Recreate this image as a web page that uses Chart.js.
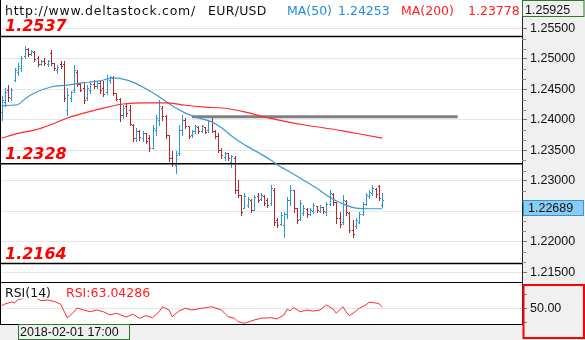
<!DOCTYPE html>
<html>
<head>
<meta charset="utf-8">
<script src="https://cdn.jsdelivr.net/npm/chart.js@4"></script>
<style>
html, body { margin: 0; padding: 0; background: #fff; }
#wrap { position: relative; width: 585px; height: 340px; overflow: hidden; }
#priceChart { position: absolute; left: 0; top: 0; }
#rsiChart { position: absolute; left: 0; top: 283px; }
</style>
</head>
<body>
<div id="wrap">
  <canvas id="priceChart" width="585" height="283"></canvas>
  <canvas id="rsiChart" width="585" height="57"></canvas>
</div>
<script>
// EUR/USD hourly bars
const opens  = [1.2413,1.2430,1.2449,1.2436,1.2466,1.2479,1.2485,1.2505,1.2517,1.2508,1.2512,1.2502,1.2492,1.2497,1.2492,1.2510,1.2494,1.2482,1.2492,1.2492,
                1.2416,1.2436,1.2449,1.2479,1.2459,1.2453,1.2436,1.2449,1.2459,1.2456,1.2461,1.2453,1.2446,1.2466,1.2469,1.2444,1.2434,1.2408,1.2423,1.2416,
                1.2392,1.2370,1.2382,1.2370,1.2379,1.2370,1.2354,1.2384,1.2400,1.2420,1.2407,1.2375,1.2338,1.2326,1.2346,1.2384,1.2400,1.2390,1.2375,1.2382,
                1.2389,1.2382,1.2389,1.2384,1.2398,1.2382,1.2374,1.2351,1.2339,1.2346,1.2331,1.2338,1.2285,1.2277,1.2256,1.2260,1.2269,1.2252,1.2275,1.2270,
                1.2275,1.2269,1.2264,1.2285,1.2236,1.2229,1.2228,1.2246,1.2269,1.2285,1.2256,1.2237,1.2247,1.2254,1.2246,1.2251,1.2259,1.2251,1.2257,1.2249,
                1.2262,1.2279,1.2265,1.2239,1.2233,1.2267,1.2247,1.2219,1.2226,1.2233,1.2246,1.2262,1.2275,1.2280,1.2287,1.2292,1.2260];
const highs  = [1.2439,1.2453,1.2457,1.2453,1.2485,1.2494,1.2505,1.2522,1.2518,1.2515,1.2513,1.2505,1.2499,1.2502,1.2499,1.2515,1.2494,1.2490,1.2497,1.2497,
                1.2453,1.2448,1.2490,1.2482,1.2461,1.2461,1.2457,1.2464,1.2466,1.2464,1.2464,1.2464,1.2474,1.2472,1.2472,1.2444,1.2436,1.2425,1.2428,1.2425,
                1.2393,1.2387,1.2384,1.2382,1.2379,1.2375,1.2392,1.2408,1.2433,1.2423,1.2408,1.2375,1.2349,1.2349,1.2392,1.2408,1.2403,1.2390,1.2384,1.2392,
                1.2390,1.2392,1.2389,1.2400,1.2405,1.2384,1.2379,1.2354,1.2347,1.2346,1.2343,1.2341,1.2301,1.2277,1.2280,1.2274,1.2270,1.2277,1.2280,1.2280,
                1.2277,1.2272,1.2293,1.2288,1.2239,1.2249,1.2249,1.2274,1.2293,1.2285,1.2256,1.2269,1.2260,1.2256,1.2256,1.2264,1.2259,1.2260,1.2257,1.2265,
                1.2285,1.2280,1.2265,1.2249,1.2277,1.2269,1.2249,1.2236,1.2239,1.2249,1.2265,1.2280,1.2285,1.2293,1.2288,1.2293,1.2280];
const lows   = [1.2400,1.2423,1.2431,1.2433,1.2464,1.2474,1.2480,1.2502,1.2505,1.2507,1.2497,1.2489,1.2490,1.2490,1.2489,1.2490,1.2482,1.2477,1.2485,1.2431,
                1.2408,1.2431,1.2446,1.2456,1.2448,1.2428,1.2433,1.2444,1.2453,1.2453,1.2444,1.2439,1.2443,1.2461,1.2441,1.2433,1.2398,1.2403,1.2407,1.2392,
                1.2366,1.2366,1.2367,1.2366,1.2362,1.2349,1.2354,1.2375,1.2392,1.2400,1.2370,1.2333,1.2324,1.2313,1.2343,1.2375,1.2387,1.2370,1.2372,1.2379,
                1.2379,1.2380,1.2379,1.2380,1.2380,1.2370,1.2347,1.2338,1.2334,1.2334,1.2323,1.2280,1.2274,1.2244,1.2256,1.2257,1.2249,1.2252,1.2265,1.2269,
                1.2260,1.2257,1.2260,1.2228,1.2224,1.2228,1.2208,1.2239,1.2260,1.2249,1.2231,1.2236,1.2244,1.2241,1.2244,1.2247,1.2249,1.2249,1.2247,1.2244,
                1.2260,1.2260,1.2231,1.2224,1.2229,1.2244,1.2216,1.2208,1.2223,1.2231,1.2244,1.2260,1.2272,1.2277,1.2274,1.2269,1.2257];
const closes = [1.2433,1.2446,1.2438,1.2449,1.2482,1.2489,1.2502,1.2517,1.2508,1.2513,1.2500,1.2492,1.2497,1.2494,1.2497,1.2494,1.2485,1.2487,1.2489,1.2436,
                1.2441,1.2446,1.2482,1.2459,1.2449,1.2433,1.2453,1.2459,1.2456,1.2461,1.2449,1.2443,1.2469,1.2471,1.2444,1.2434,1.2408,1.2420,1.2412,1.2393,
                1.2370,1.2382,1.2372,1.2379,1.2366,1.2354,1.2387,1.2403,1.2423,1.2407,1.2375,1.2338,1.2329,1.2343,1.2384,1.2400,1.2390,1.2374,1.2382,1.2390,
                1.2382,1.2390,1.2380,1.2398,1.2382,1.2374,1.2351,1.2343,1.2346,1.2338,1.2341,1.2285,1.2277,1.2249,1.2275,1.2270,1.2252,1.2274,1.2269,1.2277,
                1.2264,1.2260,1.2288,1.2233,1.2228,1.2244,1.2246,1.2269,1.2285,1.2256,1.2236,1.2264,1.2256,1.2246,1.2252,1.2260,1.2252,1.2257,1.2251,1.2262,
                1.2280,1.2265,1.2239,1.2229,1.2269,1.2249,1.2219,1.2213,1.2236,1.2246,1.2262,1.2277,1.2282,1.2288,1.2279,1.2272,1.22689];

// moving averages, sampled along the bars
const ma50Bars  = [0, 3, 5, 7, 10, 15, 20, 25, 30, 34, 37, 40, 44, 48, 52, 56, 60, 64, 67, 70, 74, 78, 82, 85, 88, 92, 96, 100, 104, 108, 112, 116];
const ma50Vals  = [1.2423,1.2424,1.24253,1.2434,1.2444,1.2454,1.2457,1.2461,1.2464,1.2469,1.2467,1.2462,1.2451,1.2438,1.2423,1.2411,
                   1.2403,1.2397,1.2387,1.2374,1.2359,1.2347,1.2334,1.2323,1.2314,1.2301,1.2288,1.2273,1.2262,1.2255,1.2254,1.2254];
const ma200Bars = [0, 5, 10, 15, 20, 25, 30, 37, 44, 50, 56, 62, 68, 74, 80, 86, 92, 98, 104, 110, 116];
const ma200Vals = [1.2370,1.23778,1.2383,1.2392,1.2403,1.2411,1.2418,1.2426,1.2428,1.2428,1.2424,1.2421,1.2419,1.2413,1.2405,1.2398,
                   1.2392,1.2387,1.2382,1.2376,1.2370];

// RSI(14)
const rsiBars = [0, 1, 3, 4, 5, 6, 7, 8, 9, 10, 11, 12, 14, 16, 18, 20, 22, 23, 25, 27, 29, 31, 33, 35, 38, 40, 42, 44, 46, 48, 49, 51, 52, 54, 56, 58,
                 61, 64, 67, 69, 71, 72, 74, 77, 79, 82, 84, 86, 87, 88, 89, 91, 93, 95, 97, 99, 101, 102, 104, 105, 106, 108, 109, 111, 112, 114, 115, 116];
const rsiVals = [53.8, 56.2, 59.1, 57.7, 63.04286, 63.5, 66, 70, 69, 67, 64, 61, 62, 60, 56, 36, 44.6, 50.4, 47.5, 45, 47.5, 45, 40.3, 42.8, 37.4, 41.3,
                 35.5, 39.3, 36.4, 45, 52.3, 47.5, 37.8, 46, 50, 47.5, 50, 52.3, 47.5, 37.8, 35.5, 30.6, 28.3, 33, 35.5, 36.4, 34.5, 40.3, 48.5, 46.5,
                 51, 45, 47.5, 46, 47.5, 54.8, 49, 42.8, 52.3, 45, 39.3, 46, 50, 54.8, 58.7, 57.7, 56.7, 52];

// levels and axis values
const levels = [1.2537, 1.2328, 1.2164];
const greyLevel = 1.2405, greyFrom = 58, greyTo = 139;
const priceTicks = [1.215, 1.22, 1.225, 1.23, 1.235, 1.24, 1.245, 1.25, 1.255];
const priceMin = 1.21321, priceMax = 1.25968;
const topPrice = 1.25925, lastPrice = 1.22689;
const rsiTicks = [30, 50, 70];
const rsiMin = 27.2, rsiMax = 86.7;

// values shown for the bar under the cursor
const cursorBar = 5;
const cursorTime = '2018-02-01 17:00';
const symbol = 'EUR/USD';
const siteUrl = 'http://www.deltastock.com/';
const ma50Now = '1.24253', ma200Now = '1.23778', rsiNow = '63.04286';

const xMin = -0.5, xMax = 158.6;
const upColor = '#2e95d4', downColor = '#b3282d';
const axisBg = '#f0f0f0';
const axisFont = { family: 'Liberation Sans', size: 12.5 };
const labelFont = '12.5px "DejaVu Sans"';

function pts(xs, ys) { return xs.map((x, i) => ({ x: x, y: ys[i] })); }

// keep the plot flush with the canvas edges
function fixAxis(s) {
  s.width = 63;
  s.paddingTop = 0;
  s.paddingBottom = 0;
}

const ohlcBars = {
  id: 'ohlcBars',
  beforeDatasetsDraw(chart) {
    const { ctx, scales: { x, y } } = chart;
    ctx.save();
    for (let i = 0; i < closes.length; i++) {
      const px = Math.round(x.getPixelForValue(i));
      const hi = Math.round(y.getPixelForValue(highs[i]));
      const lo = Math.round(y.getPixelForValue(lows[i]));
      ctx.fillStyle = closes[i] >= opens[i] ? upColor : downColor;
      ctx.fillRect(px, hi, 1, Math.max(1, lo - hi + 1));
      ctx.fillRect(px - 1, Math.round(y.getPixelForValue(opens[i])), 1, 1);
      ctx.fillRect(px + 1, Math.round(y.getPixelForValue(closes[i])), 1, 1);
    }
    ctx.restore();
  }
};

const priceDecor = {
  id: 'priceDecor',
  beforeDraw(chart) {
    const { ctx, chartArea: a, width, height } = chart;
    ctx.save();
    ctx.fillStyle = '#fff';
    ctx.fillRect(0, 0, width, height);
    ctx.fillStyle = axisBg;
    ctx.fillRect(a.right, 0, width - a.right, height);
    ctx.restore();
  },
  afterDraw(chart) {
    const { ctx, chartArea: a, scales: { y }, width } = chart;
    ctx.save();
    // minor ticks between the labelled ones
    ctx.strokeStyle = '#8a8a8a';
    ctx.lineWidth = 1;
    for (let k = 0; k < priceTicks.length - 1; k++) {
      for (let m = 1; m < 3; m++) {
        const v = priceTicks[k] + (priceTicks[k + 1] - priceTicks[k]) * m / 3;
        const py = Math.round(y.getPixelForValue(v)) + 0.5;
        ctx.beginPath(); ctx.moveTo(a.right, py); ctx.lineTo(a.right + 4, py); ctx.stroke();
      }
    }
    // level captions
    ctx.font = 'italic bold 16px "DejaVu Sans"';
    ctx.fillStyle = '#ff0000';
    ctx.textBaseline = 'alphabetic';
    levels.forEach(v => ctx.fillText(v.toFixed(4), 5, y.getPixelForValue(v) - 5));
    // header
    ctx.font = labelFont;
    ctx.fillStyle = '#111';
    ctx.letterSpacing = '0.75px';
    ctx.fillText(siteUrl, 5, 15);
    ctx.letterSpacing = '0.3px';
    ctx.fillText(symbol, 208, 15);
    ctx.letterSpacing = '0px';
    ctx.fillStyle = '#1f8dd6';
    ctx.fillText('MA(50)', 287, 15);
    ctx.fillText(ma50Now, 338, 15);
    ctx.fillStyle = '#ff2020';
    ctx.fillText('MA(200)', 401, 15);
    ctx.fillText(ma200Now, 468, 15);
    // price boxes on the axis
    ctx.font = axisFont.size + 'px "' + axisFont.family + '"';
    const topY = Math.round(y.getPixelForValue(topPrice));
    ctx.fillStyle = axisBg;
    ctx.fillRect(a.right + 1, 0, width - a.right - 1, 17);
    ctx.strokeStyle = '#2c7a2c';
    ctx.lineWidth = 1;
    ctx.strokeRect(a.right + 0.5, 0.5, width - a.right - 1.5, 16);
    ctx.fillStyle = '#111';
    ctx.fillText(topPrice.toFixed(5), a.right + 3, topY + 11);
    const lastY = Math.round(y.getPixelForValue(lastPrice));
    ctx.fillStyle = '#88cdf3';
    ctx.fillRect(a.right + 1, lastY, width - a.right - 2, 16);
    ctx.strokeStyle = '#3b93cf';
    ctx.strokeRect(a.right + 1.5, lastY + 0.5, width - a.right - 3, 15);
    ctx.fillStyle = '#111';
    ctx.fillText(lastPrice.toFixed(5), a.right + 6, lastY + 12);
    // frame
    ctx.fillStyle = '#000';
    ctx.fillRect(0, 0, 1, a.bottom);
    ctx.fillRect(0, a.bottom - 1, a.right, 1);
    ctx.restore();
  }
};

const levelSets = levels.map(v => ({
  data: [{ x: xMin, y: v }, { x: xMax, y: v }],
  borderColor: '#000', borderWidth: 1.5, pointRadius: 0
}));

new Chart('priceChart', {
  type: 'line',
  data: {
    datasets: [
      { data: pts(ma200Bars, ma200Vals), borderColor: '#ff2a2a', borderWidth: 1.2, pointRadius: 0, cubicInterpolationMode: 'monotone' },
      { data: pts(ma50Bars, ma50Vals), borderColor: '#3a9bd8', borderWidth: 1.2, pointRadius: 0, cubicInterpolationMode: 'monotone' },
      { data: [{ x: greyFrom, y: greyLevel }, { x: greyTo, y: greyLevel }], borderColor: '#808080', borderWidth: 3, pointRadius: 0 },
      ...levelSets
    ]
  },
  options: {
    responsive: false,
    animation: false,
    events: [],
    layout: { padding: 0 },
    plugins: { legend: { display: false }, tooltip: { enabled: false } },
    scales: {
      x: { type: 'linear', min: xMin, max: xMax, display: false },
      y: {
        position: 'right', min: priceMin, max: priceMax,
        afterBuildTicks: s => { s.ticks = priceTicks.map(v => ({ value: v })); },
        afterFit: fixAxis,
        grid: { color: '#e6e6e6', tickLength: 5, tickColor: '#7a7a7a' },
        border: { color: '#222' },
        ticks: { padding: 3, color: '#111', font: axisFont, callback: v => v.toFixed(5) }
      }
    }
  },
  plugins: [ohlcBars, priceDecor]
});

const rsiDecor = {
  id: 'rsiDecor',
  beforeDraw(chart) {
    const { ctx, chartArea: a, width, height } = chart;
    ctx.save();
    ctx.fillStyle = '#fff';
    ctx.fillRect(0, 0, width, height);
    ctx.fillStyle = axisBg;
    ctx.fillRect(a.right, 0, width - a.right, height);
    ctx.fillRect(0, a.bottom, a.right, height - a.bottom);
    ctx.restore();
  },
  afterDraw(chart) {
    const { ctx, chartArea: a, scales: { x }, width, height } = chart;
    ctx.save();
    // indicator caption sits on its own white strip
    ctx.fillStyle = '#fff';
    ctx.fillRect(2, 3, 56, 12.5);
    ctx.font = labelFont;
    ctx.fillStyle = '#111';
    ctx.fillText('RSI(14)', 5, 14);
    ctx.fillStyle = '#ff2020';
    ctx.fillText('RSI:' + rsiNow, 66, 14);
    // frame
    ctx.fillStyle = '#000';
    ctx.fillRect(0, 0, 1, a.bottom);
    ctx.fillRect(0, a.bottom, a.right, 1);
    // time of the cursor bar
    const bx = Math.round(x.getPixelForValue(cursorBar));
    ctx.strokeStyle = '#2c7a2c';
    ctx.lineWidth = 1;
    ctx.strokeRect(bx + 0.5, a.bottom + 0.5, 111, height - a.bottom - 1);
    ctx.font = axisFont.size + 'px "' + axisFont.family + '"';
    ctx.fillStyle = '#111';
    ctx.fillText(cursorTime, bx + 2, height - 4);
    // axis box
    ctx.strokeStyle = '#ff0000';
    ctx.lineWidth = 2;
    ctx.strokeRect(a.right + 1.5, 2, width - a.right - 2.5, height - 4);
    ctx.restore();
  }
};

new Chart('rsiChart', {
  type: 'line',
  data: {
    datasets: [
      { data: pts(rsiBars, rsiVals), borderColor: '#ff2a2a', borderWidth: 1, pointRadius: 0 }
    ]
  },
  options: {
    responsive: false,
    animation: false,
    events: [],
    layout: { padding: { top: 0, left: 0, right: 0, bottom: 16 } },
    plugins: { legend: { display: false }, tooltip: { enabled: false } },
    scales: {
      x: { type: 'linear', min: xMin, max: xMax, display: false },
      y: {
        position: 'right', min: rsiMin, max: rsiMax,
        afterBuildTicks: s => { s.ticks = rsiTicks.map(v => ({ value: v })); },
        afterFit: fixAxis,
        grid: { color: c => (c.tick && c.tick.value === 50) ? '#e6e6e6' : 'rgba(0,0,0,0)', tickLength: 5, tickColor: '#7a7a7a' },
        border: { color: '#222' },
        ticks: { padding: 3, color: '#111', font: axisFont, callback: v => v === 50 ? '50.00' : '' }
      }
    }
  },
  plugins: [rsiDecor]
});
</script>
</body>
</html>
